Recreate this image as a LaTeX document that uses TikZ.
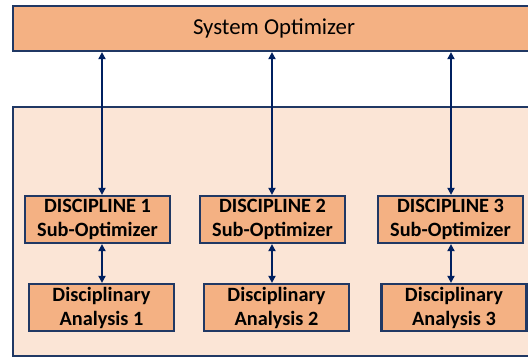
\documentclass[tikz,border=0pt]{standalone}
\usepackage{fontspec}
\setmainfont{Carlito}
\usetikzlibrary{arrows.meta}
\definecolor{boxfill}{HTML}{F4B183}
\definecolor{panelfill}{HTML}{FBE5D6}
\definecolor{edge}{HTML}{203864}
\definecolor{link}{HTML}{002060}
\tikzset{
  optbox/.style={draw=edge, line width=2.2pt, fill=boxfill, inner sep=0pt,
    minimum width=145pt, minimum height=47pt, align=center,
    font=\bfseries\fontsize{20.3}{24}\selectfont},
  topbox/.style={draw=edge, line width=2.2pt, fill=boxfill, inner sep=0pt,
    minimum width=522pt, minimum height=45pt,
    font=\fontsize{22.8}{26}\selectfont},
  panel/.style={draw=edge, line width=2pt, fill=panelfill, inner sep=0pt,
    minimum width=530pt, minimum height=249pt},
  link/.style={draw=link, line width=2.2pt,
    {Triangle[length=7pt,width=7pt]}-{Triangle[length=7pt,width=7pt]}}
}
\begin{document}
\begin{tikzpicture}[x=1pt,y=-1pt]
  \useasboundingbox (0,0) rectangle (528,358);
  \clip (0,0) rectangle (528,358);
  \fill[white] (0,0) rectangle (528,358);

  % enclosing panel for the disciplines
  \node[panel] (frame) at (278,231.5) {};

  % system level
  \node[topbox] (sysopt) at (274,28.5) {System Optimizer};

  % discipline sub-optimizers
  \node[optbox] (sub1) at (97.5,219.5) {DISCIPLINE 1\\Sub-Optimizer};
  \node[optbox] (sub2) at (272.5,219.5) {DISCIPLINE 2\\Sub-Optimizer};
  \node[optbox] (sub3) at (450.5,219.5) {DISCIPLINE 3\\Sub-Optimizer};

  % disciplinary analyses
  \node[optbox] (ana1) at (101.5,307.5) {Disciplinary\\Analysis 1};
  \node[optbox] (ana2) at (276.5,307.5) {Disciplinary\\Analysis 2};
  \node[optbox] (ana3) at (454,307.5) {Disciplinary\\Analysis 3};

  % connector columns
  \coordinate (c1) at (102,0);
  \coordinate (c2) at (272,0);
  \coordinate (c3) at (451,0);

  \draw[link] (sub1.north -| c1) -- (sysopt.south -| c1);
  \draw[link] (sub2.north -| c2) -- (sysopt.south -| c2);
  \draw[link] (sub3.north -| c3) -- (sysopt.south -| c3);

  \draw[link] (ana1.north -| c1) -- (sub1.south -| c1);
  \draw[link] (ana2.north -| c2) -- (sub2.south -| c2);
  \draw[link] (ana3.north -| c3) -- (sub3.south -| c3);
\end{tikzpicture}
\end{document}
